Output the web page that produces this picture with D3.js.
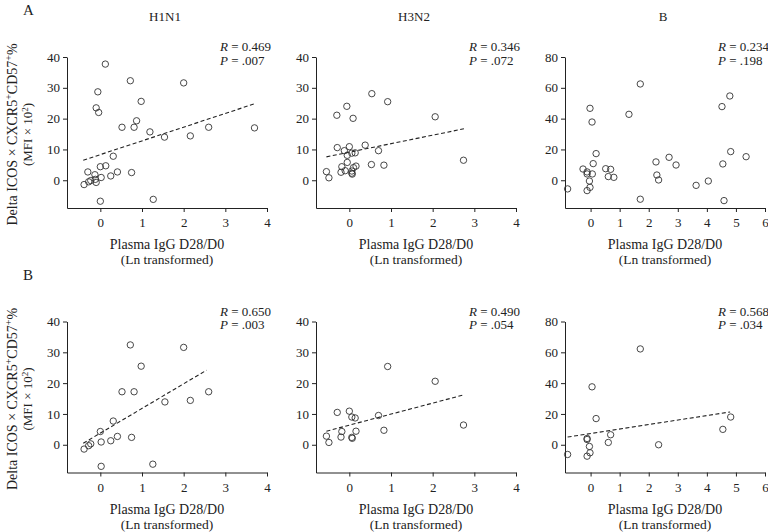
<!DOCTYPE html>
<html>
<head>
<meta charset="utf-8">
<script src="https://cdn.jsdelivr.net/npm/d3@7"></script>
<style>
  html, body { margin: 0; padding: 0; background: #fff; }
  svg text { font-family: "Liberation Serif", "Times New Roman", serif; fill: #222; }
</style>
</head>
<body>
<svg id="chart" width="768" height="532"></svg>
<script>
// ---------- data ----------
const strains = ["H1N1", "H3N2", "B"];
const rowLetters = ["A", "B"];
const xTicksFlu = [0, 1, 2, 3, 4];
const xTicksB = [0, 1, 2, 3, 4, 5, 6];
const yTicksFlu = [0, 10, 20, 30, 40];
const yTicksB = [0, 20, 40, 60, 80];

// Row A (all subjects) points [x, y]
const h1n1All = [[0.12,37.7],[0.72,32.3],[2.0,31.6],[-0.06,28.7],[0.98,25.6],[-0.1,23.5],[-0.04,22.0],[0.87,19.3],[0.52,17.2],[0.81,17.2],[2.6,17.2],[3.7,17.0],[1.19,15.7],[1.54,14.0],[2.16,14.4],[0.31,7.8],[0.0,4.4],[0.13,4.7],[0.41,2.7],[-0.3,2.7],[0.75,2.5],[0.25,1.4],[-0.13,1.8],[0.02,0.9],[-0.12,0.3],[-0.23,-0.1],[-0.28,-0.5],[-0.1,-0.7],[-0.39,-1.4],[0.0,-6.8],[1.27,-6.2]];
const h3n2All = [[0.54,28.1],[0.92,25.5],[-0.06,24.0],[-0.3,21.1],[0.09,20.1],[2.06,20.6],[0.38,11.4],[-0.29,10.6],[0.0,10.9],[-0.12,9.6],[0.7,9.6],[0.06,8.8],[0.14,8.9],[-0.05,8.1],[-0.05,5.8],[2.74,6.5],[0.53,5.1],[0.83,4.9],[-0.18,4.4],[0.16,4.6],[0.1,4.1],[-0.55,2.8],[-0.1,3.1],[-0.2,2.6],[0.06,3.0],[0.06,2.3],[0.07,2.0],[-0.49,0.8]];
const bAll = [[1.71,62.5],[4.79,54.7],[4.52,47.8],[-0.02,46.7],[1.32,42.8],[0.05,37.8],[4.82,18.6],[0.19,17.3],[5.35,15.3],[2.7,14.9],[2.25,11.9],[0.09,10.8],[4.55,10.6],[2.94,9.9],[-0.26,7.3],[0.52,7.5],[0.69,7.1],[-0.12,5.4],[-0.12,4.1],[0.06,4.1],[2.28,3.4],[0.61,2.4],[0.8,1.9],[2.34,0.2],[-0.04,-0.5],[4.05,-0.5],[3.63,-3.3],[-0.02,-4.6],[-0.79,-5.6],[-0.12,-6.7],[1.71,-12.3],[4.59,-13.2]];

// Row B (subset) points [x, y]
const h1n1Sub = [[0.72,32.4],[2.0,31.6],[0.98,25.5],[0.52,17.2],[0.81,17.2],[2.6,17.2],[1.55,13.9],[2.16,14.4],[0.31,7.7],[0.0,4.3],[0.41,2.7],[0.75,2.4],[0.25,1.3],[0.02,0.9],[-0.23,0.3],[-0.28,-0.3],[-0.39,-1.4],[0.02,-7.0],[1.26,-6.3]];
const h3n2Sub = [[0.92,25.4],[2.06,20.6],[-0.29,10.5],[0.0,10.9],[0.7,9.5],[0.06,9.0],[0.14,8.7],[2.74,6.4],[0.83,4.7],[-0.18,4.3],[0.16,4.4],[-0.55,2.8],[-0.2,2.5],[0.06,2.4],[0.07,2.1],[-0.49,0.75]];
const bSub = [[1.71,62.2],[0.05,37.6],[0.19,17.0],[4.82,18.0],[4.55,10.0],[0.69,6.5],[-0.12,4.1],[-0.12,3.4],[0.61,1.5],[2.34,0.0],[-0.04,-1.1],[-0.02,-5.2],[-0.79,-6.3],[-0.12,-7.4]];

// Fitted (dashed) lines: endpoints [x, y]; null = no line
const fitA = [[[-0.41,6.5],[3.72,24.9]], [[-0.55,7.6],[2.75,16.7]], null];
const fitB = [[[-0.41,0.5],[2.55,24.2]], [[-0.55,4.4],[2.75,16.2]], [[-0.79,5.0],[4.8,21.3]]];

const rValsA = ["0.469", "0.346", "0.234"];
const pValsA = [".007", ".072", ".198"];
const rValsB = ["0.650", "0.490", "0.568"];
const pValsB = [".003", ".054", ".034"];

const xDomains = [[-0.8, 4], [-0.8, 4], [-0.88, 6]];
const yDomains = [[-9, 40], [-9, 40], [-18, 80]];

// ---------- layout ----------
const colLeft = [67, 316, 565];
const panelW = 200;
const rowTop = [57, 321.5];
const panelH = 151;

const svg = d3.select("#chart");

const rows = [
  { pts: [h1n1All, h3n2All, bAll], fits: fitA, r: rValsA, p: pValsA },
  { pts: [h1n1Sub, h3n2Sub, bSub], fits: fitB, r: rValsB, p: pValsB }
];

rows.forEach((row, ri) => {
  const top = rowTop[ri];
  const bottom = top + panelH;

  // row letter
  svg.append("text").attr("x", 23).attr("y", top - 42)
    .attr("font-size", 15).text(rowLetters[ri]);

  // y-axis label
  const cy = top + panelH / 2 + 2;
  const lab = svg.append("text")
    .attr("transform", `translate(17,${cy}) rotate(-90)`)
    .attr("text-anchor", "middle").attr("font-size", 14);
  lab.append("tspan").text("Delta ICOS × CXCR5");
  lab.append("tspan").attr("dy", -5).attr("font-size", 10).text("+");
  lab.append("tspan").attr("dy", 5).text("CD57");
  lab.append("tspan").attr("dy", -5).attr("font-size", 10).text("+");
  lab.append("tspan").attr("dy", 5).text("%");

  const lab2 = svg.append("text")
    .attr("transform", `translate(32,${cy}) rotate(-90)`)
    .attr("text-anchor", "middle").attr("font-size", 13);
  lab2.append("tspan").text("(MFI × 10");
  lab2.append("tspan").attr("dy", -4).attr("font-size", 9).text("2");
  lab2.append("tspan").attr("dy", 4).text(")");

  strains.forEach((s, ci) => {
    const left = colLeft[ci];
    const x = d3.scaleLinear().domain(xDomains[ci]).range([left, left + panelW]);
    const y = d3.scaleLinear().domain(yDomains[ci]).range([bottom, top]);
    const g = svg.append("g");

    // title (row A only)
    if (ri === 0) {
      svg.append("text").attr("x", left + panelW / 2 - 2).attr("y", 21)
        .attr("text-anchor", "middle").attr("font-size", 13).text(s);
    }

    const xAxis = d3.axisBottom(x).tickValues(ci === 2 ? xTicksB : xTicksFlu)
      .tickSize(4).tickSizeOuter(0).tickPadding(6).tickFormat(d3.format("d"));
    const yAxis = d3.axisLeft(y).tickValues(ci === 2 ? yTicksB : yTicksFlu)
      .tickSize(4).tickSizeOuter(0).tickPadding(3).tickFormat(d3.format("d"));

    const gx = g.append("g").attr("transform", `translate(0,${bottom})`).call(xAxis);
    const gy = g.append("g").attr("transform", `translate(${left},0)`).call(yAxis);
    [gx, gy].forEach(a => {
      a.select(".domain").attr("stroke", "#222").attr("stroke-width", 1);
      a.selectAll(".tick line").attr("stroke", "#222").attr("stroke-width", 1);
      a.selectAll(".tick text").attr("font-family", "Liberation Serif, serif")
        .attr("font-size", 13).attr("fill", "#222");
    });

    // x-axis title
    g.append("text").attr("x", left + panelW / 2).attr("y", bottom + 41)
      .attr("text-anchor", "middle").attr("font-size", 14).text("Plasma IgG D28/D0");
    g.append("text").attr("x", left + panelW / 2).attr("y", bottom + 56)
      .attr("text-anchor", "middle").attr("font-size", 13.5).text("(Ln transformed)");

    // fit line
    const fit = row.fits[ci];
    if (fit) {
      g.append("line")
        .attr("x1", x(fit[0][0])).attr("y1", y(fit[0][1]))
        .attr("x2", x(fit[1][0])).attr("y2", y(fit[1][1]))
        .attr("stroke", "#222").attr("stroke-width", 1.1)
        .attr("stroke-dasharray", "4,2.5");
    }

    // points
    g.selectAll("circle.pt").data(row.pts[ci]).enter().append("circle")
      .attr("class", "pt")
      .attr("cx", d => x(d[0])).attr("cy", d => y(d[1])).attr("r", 3.2)
      .attr("fill", "none").attr("stroke", "#333").attr("stroke-width", 0.9);

    // R / P annotations
    const tx = left + 153;
    const tR = g.append("text").attr("x", tx).attr("y", top - 6).attr("font-size", 13);
    tR.append("tspan").attr("font-style", "italic").text("R");
    tR.append("tspan").text(" = " + row.r[ci]);
    const tP = g.append("text").attr("x", tx).attr("y", top + 7.5).attr("font-size", 13);
    tP.append("tspan").attr("font-style", "italic").text("P");
    tP.append("tspan").text(" = " + row.p[ci]);
  });
});
</script>
</body>
</html>
